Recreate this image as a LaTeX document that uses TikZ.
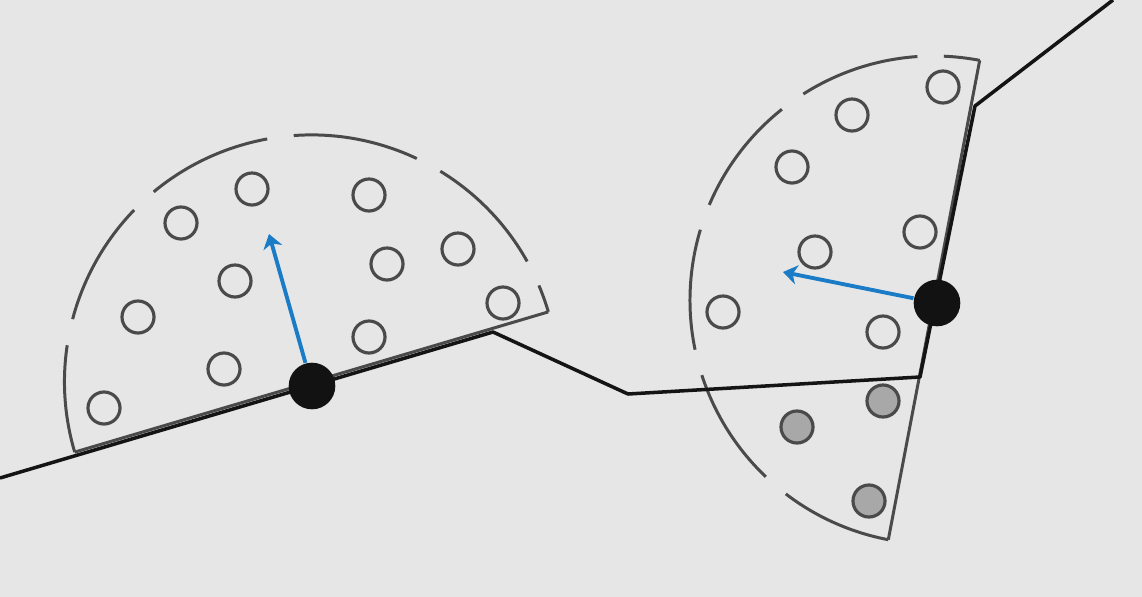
\documentclass[tikz,border=0pt]{standalone}
\usetikzlibrary{arrows.meta}
\definecolor{paper}{HTML}{E6E6E6}
\definecolor{ink}{HTML}{4A4A4A}
\definecolor{beam}{HTML}{1A7BC7}
\definecolor{seenfill}{HTML}{A8A8A8}
\begin{document}
\begin{tikzpicture}[x=0.01cm, y=-0.01cm,
    wall/.style={black!92, line width=1pt, line join=round},
    fovedge/.style={ink, line width=0.85pt},
    fovarc/.style={ink, line width=0.85pt},
    landmark/.style={circle, draw=ink, line width=0.9pt, minimum size=0.32cm, inner sep=0pt},
    seen/.style={landmark, fill=seenfill},
    robot/.style={circle, fill=black!93, minimum size=0.466cm, inner sep=0pt},
    heading/.style={beam, line width=1.1pt, -{Stealth[length=4pt, width=5.5pt, inset=1.2pt]}}]
  \fill[paper] (0,0) rectangle (1142,597);
  \useasboundingbox (0,0) rectangle (1142,597);

  % ===== landmarks =====
  \foreach \p [count=\i] in {(104,408),(138,317),(181,223),(252,189),(235,281),
      (224,369),(369,195),(387,264),(458,249),(503,303),(369,337)}
    \node[landmark] (la\i) at \p {};
  \foreach \p [count=\i] in {(943,87),(852,115),(792,167),(920,232),(815,252),
      (723,312),(883,332)}
    \node[landmark] (lb\i) at \p {};
  \foreach \p [count=\i] in {(883,401),(797,427),(869,501)}
    \node[seen] (sb\i) at \p {};

  % ===== field of view, left =====
  \draw[fovedge] (74.7,452.1) -- (548.3,311.9);
  \draw[fovarc, dash pattern=on 36pt off 7.6pt, dash phase=5.3pt] (74.7,452.1)
    arc[start angle=163.5, end angle=343.5, radius=247];

  % ===== field of view, right =====
  \draw[fovedge] (888.3,539.7) -- (979.7,60.3);
  \draw[fovarc, dash pattern=on 34.5pt off 7.5pt, dash phase=2.3pt] (888.3,539.7)
    arc[start angle=100.8, end angle=280.8, radius=244];

  % ===== wall =====
  \coordinate (w0) at (0,478);
  \coordinate (w1) at (493,332);
  \coordinate (w2) at (628,394);
  \coordinate (w3) at (920,377);
  \coordinate (w4) at (975,106);
  \coordinate (w5) at (1113,0);
  \draw[wall] (w0) -- (w1) -- (w2) -- (w3) -- (w4) -- (w5);

  % ===== robots and headings =====
  \node[robot] (ra) at (312,386) {};
  \node[robot] (rb) at (937,303) {};
  \coordinate (ha) at (269,234);
  \coordinate (hb) at (783,272);
  \draw[heading] (ra) -- (ha);
  \draw[heading] (rb) -- (hb);
\end{tikzpicture}
\end{document}
